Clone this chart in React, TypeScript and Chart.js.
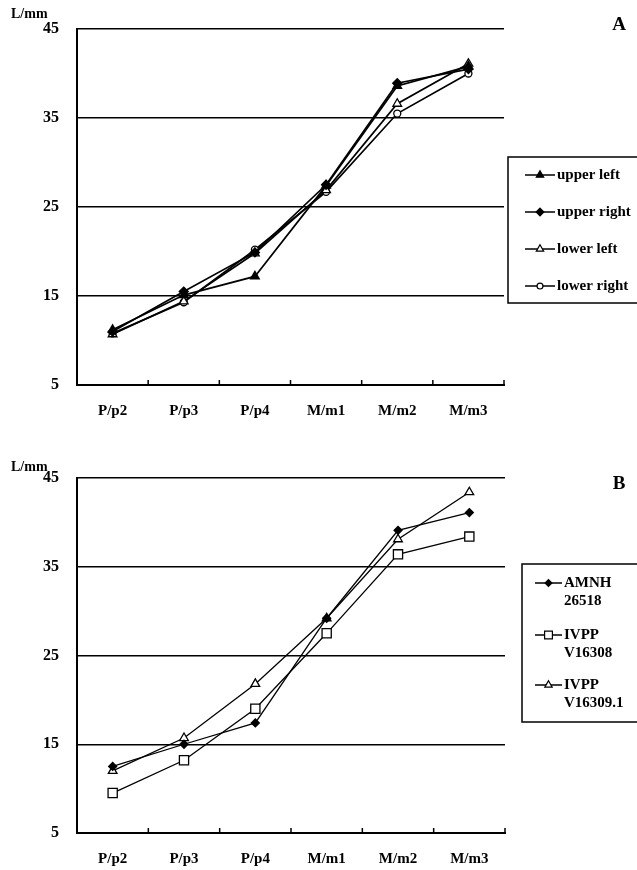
import React, { useEffect, useRef } from "react";
import { Chart, registerables } from "chart.js";

Chart.register(...registerables);

// ---------- data ----------
const categories = ["P/p2", "P/p3", "P/p4", "M/m1", "M/m2", "M/m3"];
const yTicks = [5, 15, 25, 35, 45];

// Panel A
const upperLeft = [11.2, 15.1, 17.2, 27.4, 38.6, 40.8];
const upperRight = [11.0, 15.5, 19.9, 27.5, 38.9, 40.5];
const lowerLeft = [10.7, 14.4, 19.8, 26.9, 36.6, 41.1];
const lowerRight = [10.8, 14.3, 20.2, 26.7, 35.5, 40.0];
const namesA = ["upper left", "upper right", "lower left", "lower right"];

// Panel B
const amnh26518 = [12.5, 15.0, 17.4, 29.2, 39.1, 41.1];
const ivppV16308 = [9.5, 13.2, 19.0, 27.5, 36.4, 38.4];
const ivppV16309 = [12.0, 15.7, 21.8, 29.2, 38.1, 43.4];
const namesB = [["AMNH", "26518"], ["IVPP", "V16308"], ["IVPP", "V16309.1"]];

const FONT = '"Liberation Serif", "Times New Roman", serif';

type Marker = { style: string; filled: boolean; radius: number };

function drawMarker(ctx: CanvasRenderingContext2D, m: Marker, x: number, y: number, bw: number) {
  ctx.save();
  ctx.beginPath();
  const r = m.radius;
  if (m.style === "triangle") {
    for (let i = 0; i < 3; i++) {
      const a = -Math.PI / 2 + (i * 2 * Math.PI) / 3;
      const px = x + Math.cos(a) * r;
      const py = y + Math.sin(a) * r;
      if (i === 0) ctx.moveTo(px, py);
      else ctx.lineTo(px, py);
    }
    ctx.closePath();
  } else if (m.style === "rectRot") {
    ctx.moveTo(x, y - r);
    ctx.lineTo(x + r, y);
    ctx.lineTo(x, y + r);
    ctx.lineTo(x - r, y);
    ctx.closePath();
  } else if (m.style === "rect") {
    const s = Math.SQRT1_2 * r;
    ctx.rect(x - s, y - s, 2 * s, 2 * s);
  } else {
    ctx.arc(x, y, r, 0, Math.PI * 2);
  }
  ctx.fillStyle = m.filled ? "#000" : "#fff";
  ctx.fill();
  ctx.lineWidth = bw;
  ctx.strokeStyle = "#000";
  ctx.stroke();
  ctx.restore();
}

type PanelCfg = {
  height: number;
  top: number;
  bottom: number;
  right: number;
  title: string;
  titleY: number;
  unitY: number;
  series: number[][];
  markers: Marker[];
  labels: string[][];
  lineWidth: number;
  legend: { left: number; top: number; bottom: number; ys: number[]; lineX1: number; lineX2: number; textX: number; lineGap: number };
};

function buildChart(canvas: HTMLCanvasElement, cfg: PanelCfg) {
  const decor = {
    id: "decor",
    afterDraw(chart: any) {
      const ctx: CanvasRenderingContext2D = chart.ctx;
      const xs = chart.scales.x;
      const ca = chart.chartArea;
      ctx.save();
      // inward tick marks at category boundaries
      ctx.strokeStyle = "#000";
      ctx.lineWidth = 1.5;
      for (let i = 0; i < categories.length; i++) {
        const px = xs.getPixelForValue(i + 0.5);
        ctx.beginPath();
        ctx.moveTo(px, ca.bottom);
        ctx.lineTo(px, ca.bottom - 5);
        ctx.stroke();
      }
      // unit label
      ctx.fillStyle = "#000";
      ctx.font = `bold 14px ${FONT}`;
      ctx.textAlign = "left";
      ctx.textBaseline = "middle";
      ctx.fillText("L/mm", 11, cfg.unitY);
      // panel title
      ctx.font = `bold 19px ${FONT}`;
      ctx.textAlign = "center";
      ctx.fillText(cfg.title, 619, cfg.titleY);
      // legend box
      const L = cfg.legend;
      ctx.lineWidth = 1.5;
      ctx.strokeStyle = "#000";
      ctx.beginPath();
      ctx.moveTo(660, L.top);
      ctx.lineTo(L.left, L.top);
      ctx.lineTo(L.left, L.bottom);
      ctx.lineTo(660, L.bottom);
      ctx.stroke();
      ctx.font = `bold 15px ${FONT}`;
      ctx.textAlign = "left";
      ctx.textBaseline = "middle";
      cfg.labels.forEach((lines, i) => {
        const y = L.ys[i];
        ctx.lineWidth = 1.5;
        ctx.beginPath();
        ctx.moveTo(L.lineX1, y);
        ctx.lineTo(L.lineX2, y);
        ctx.stroke();
        const m = cfg.markers[i];
        drawMarker(ctx, { ...m, radius: m.radius * 0.85 }, (L.lineX1 + L.lineX2) / 2, y, 1.2);
        lines.forEach((t, k) => {
          ctx.fillStyle = "#000";
          ctx.fillText(t, L.textX, y + k * L.lineGap);
        });
      });
      ctx.restore();
    },
  };

  return new Chart(canvas, {
    type: "line",
    data: {
      labels: categories,
      datasets: cfg.series.map((s, i) => ({
        label: cfg.labels[i].join(" "),
        data: s,
        borderColor: "#000",
        borderWidth: cfg.lineWidth,
        pointStyle: cfg.markers[i].style as any,
        pointRadius: cfg.markers[i].radius,
        pointBackgroundColor: cfg.markers[i].filled ? "#000" : "#fff",
        pointBorderColor: "#000",
        pointBorderWidth: 1.3,
        tension: 0,
        fill: false,
        clip: false as any,
      })),
    },
    options: {
      responsive: false,
      animation: false,
      events: [],
      layout: { padding: { left: 0, top: cfg.top, right: 637 - cfg.right, bottom: 0 } },
      plugins: { legend: { display: false }, tooltip: { enabled: false }, title: { display: false } },
      scales: {
        x: {
          type: "category",
          offset: true,
          grid: { display: false, drawTicks: false },
          border: { display: true, color: "#000", width: 2 },
          ticks: {
            color: "#000",
            font: { family: FONT, size: 15, weight: "bold" },
            padding: 17,
            maxRotation: 0,
            autoSkip: false,
          },
          afterFit(scale: any) {
            scale.height = cfg.height - cfg.bottom;
          },
        },
        y: {
          min: 5,
          max: 45,
          afterBuildTicks(scale: any) {
            scale.ticks = yTicks.map((v) => ({ value: v }));
          },
          grid: { color: "#000", lineWidth: 1.5, drawTicks: false },
          border: { display: true, color: "#000", width: 2 },
          ticks: {
            color: "#000",
            font: { family: FONT, size: 16, weight: "bold" },
            padding: 18,
          },
          afterFit(scale: any) {
            scale.width = 77;
          },
        },
      },
    },
    plugins: [decor],
  });
}

const panelA: PanelCfg = {
  height: 435,
  top: 29,
  bottom: 385,
  right: 504,
  title: "A",
  titleY: 25,
  unitY: 14,
  series: [upperLeft, upperRight, lowerLeft, lowerRight],
  markers: [
    { style: "triangle", filled: true, radius: 5 },
    { style: "rectRot", filled: true, radius: 4.5 },
    { style: "triangle", filled: false, radius: 5 },
    { style: "circle", filled: false, radius: 3.5 },
  ],
  labels: namesA.map((n) => [n]),
  lineWidth: 1.7,
  legend: { left: 508, top: 157, bottom: 303, ys: [175, 212, 249, 286], lineX1: 525, lineX2: 555, textX: 557, lineGap: 18 },
};

const panelB: PanelCfg = {
  height: 435,
  top: 43,
  bottom: 398,
  right: 505,
  title: "B",
  titleY: 49,
  unitY: 32,
  series: [amnh26518, ivppV16308, ivppV16309],
  markers: [
    { style: "rectRot", filled: true, radius: 4 },
    { style: "rect", filled: false, radius: 6.5 },
    { style: "triangle", filled: false, radius: 5 },
  ],
  labels: namesB,
  lineWidth: 1.3,
  legend: { left: 522, top: 129, bottom: 287, ys: [148, 200, 250], lineX1: 535, lineX2: 562, textX: 564, lineGap: 18 },
};

function Panel({ cfg }: { cfg: PanelCfg }) {
  const ref = useRef<HTMLCanvasElement | null>(null);
  useEffect(() => {
    if (!ref.current) return;
    const chart = buildChart(ref.current, cfg);
    return () => chart.destroy();
  }, [cfg]);
  return <canvas ref={ref} width={637} height={cfg.height} style={{ display: "block", width: 637, height: cfg.height }} />;
}

export default function App() {
  return (
    <div style={{ position: "absolute", left: 0, top: 0, width: 637, height: 870, background: "#fff" }}>
      <Panel cfg={panelA} />
      <Panel cfg={panelB} />
    </div>
  );
}
